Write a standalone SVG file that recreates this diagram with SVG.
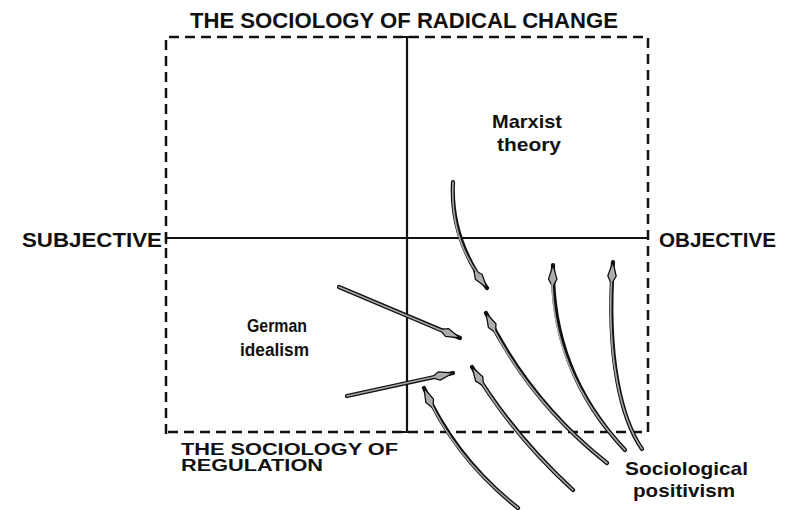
<svg xmlns="http://www.w3.org/2000/svg" width="794" height="510" viewBox="0 0 794 510">
<style>
.lbl{font-family:"Liberation Sans",Arial,sans-serif;font-weight:bold;fill:#111}
.frame{fill:none;stroke:#111;stroke-width:2.5;stroke-dasharray:10 6}
.axis{fill:none;stroke:#111;stroke-width:2.2}
.sh-o{fill:none;stroke:#111;stroke-width:4.2;stroke-linecap:round}
.sh-i{fill:none;stroke:#a8a8a8;stroke-width:1.6;stroke-linecap:round}
</style>
<defs>
<marker id="spear" markerUnits="userSpaceOnUse" markerWidth="30" markerHeight="14" viewBox="-24 -7 30 14" refX="0" refY="0" orient="auto" overflow="visible">
<polygon points="0,0 -14,-4.2 -22,0 -14,4.2" fill="#b0b0b0" stroke="#111" stroke-width="1.3" stroke-linejoin="round"/>
</marker>
</defs>
<rect width="794" height="510" fill="#fff"/>
<g id="frame">
<path class="frame" d="M166,434 L166,37 L648,37 L648,432 L166,432"/>
<path class="axis" d="M407,37 L407,432 M400,37 L414,37 M400,432 L414,432 M166,238 L648,238 M166,232 L166,244"/>
</g>
<g id="connectors">
<path class="sh-o" d="M453,182 Q450,238 487,288" marker-end="url(#spear)"/>
<path class="sh-i" d="M453,182 Q450,238 480,277"/>
<path class="sh-o" d="M339,287 L460,338" marker-end="url(#spear)"/>
<path class="sh-i" d="M339,287 L450,334"/>
<path class="sh-o" d="M347,396 L453,373" marker-end="url(#spear)"/>
<path class="sh-i" d="M347,396 L443,375"/>
<path class="sh-o" d="M518,508 Q455,458 424,388" marker-end="url(#spear)"/>
<path class="sh-i" d="M518,508 Q455,458 428,397"/>
<path class="sh-o" d="M573,490 Q513,435 472,367" marker-end="url(#spear)"/>
<path class="sh-i" d="M573,490 Q513,435 477,375"/>
<path class="sh-o" d="M607,463 Q529,401 486,313" marker-end="url(#spear)"/>
<path class="sh-i" d="M607,463 Q529,401 490,322"/>
<path class="sh-o" d="M625,450 Q551,371 553,265" marker-end="url(#spear)"/>
<path class="sh-i" d="M625,450 Q551,371 552,275"/>
<path class="sh-o" d="M642,449 C622,420 606,360 613,262" marker-end="url(#spear)"/>
<path class="sh-i" d="M642,449 C622,420 606,360 612,272"/>
</g>
<g id="title-top"><text class="lbl" x="190" y="28" font-size="22" textLength="428" lengthAdjust="spacingAndGlyphs">THE SOCIOLOGY OF RADICAL CHANGE</text></g>
<g id="title-bottom">
<text class="lbl" x="181" y="455" font-size="16" textLength="217" lengthAdjust="spacingAndGlyphs">THE SOCIOLOGY OF</text>
<text class="lbl" x="181" y="471" font-size="16" textLength="142" lengthAdjust="spacingAndGlyphs">REGULATION</text>
</g>
<g id="subjective"><text class="lbl" x="22" y="247" font-size="21" textLength="140" lengthAdjust="spacingAndGlyphs">SUBJECTIVE</text></g>
<g id="objective"><text class="lbl" x="659" y="247" font-size="21" textLength="117" lengthAdjust="spacingAndGlyphs">OBJECTIVE</text></g>
<g id="marxist">
<text class="lbl" x="492" y="128" font-size="19" textLength="70" lengthAdjust="spacingAndGlyphs">Marxist</text>
<text class="lbl" x="497" y="151" font-size="19" textLength="64" lengthAdjust="spacingAndGlyphs">theory</text>
</g>
<g id="german">
<text class="lbl" x="247" y="332" font-size="18" textLength="60" lengthAdjust="spacingAndGlyphs">German</text>
<text class="lbl" x="240" y="356" font-size="18" textLength="69" lengthAdjust="spacingAndGlyphs">idealism</text>
</g>
<g id="positivism">
<text class="lbl" x="625" y="475" font-size="19" textLength="123" lengthAdjust="spacingAndGlyphs">Sociological</text>
<text class="lbl" x="633" y="497" font-size="19" textLength="102" lengthAdjust="spacingAndGlyphs">positivism</text>
</g>
</svg>
